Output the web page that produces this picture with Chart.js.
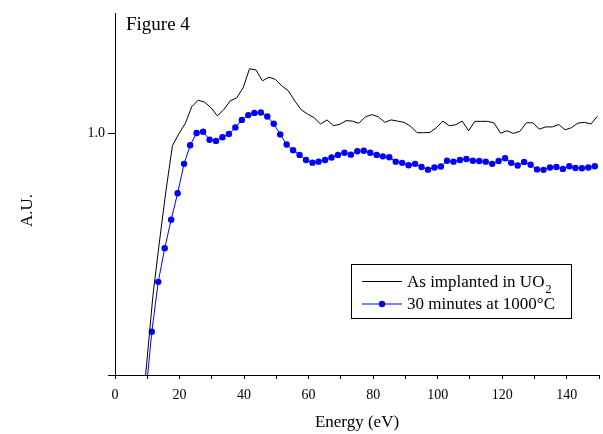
<!DOCTYPE html>
<html><head><meta charset="utf-8">
<script src="https://cdn.jsdelivr.net/npm/chart.js@4.4.0/dist/chart.umd.min.js"></script>
<style>html,body{margin:0;padding:0;background:#fff;}#wrap{width:603px;height:434px;}</style>
</head><body><div id="wrap"><canvas id="c" width="603" height="434"></canvas></div>
<script>
const implantedEnergy = [7.8, 9.8, 11.8, 13.8, 15.8, 17.8, 19.8, 21.8, 23.8, 25.8, 27.8, 29.8, 31.7, 33.7, 35.7, 37.7, 39.7, 41.7, 43.7, 45.7, 47.7, 49.7, 51.7, 53.7, 55.7, 57.7, 59.7, 61.7, 63.7, 65.7, 67.7, 69.7, 71.6, 73.6, 75.6, 77.6, 79.6, 81.6, 83.6, 85.6, 87.6, 89.6, 91.6, 93.6, 95.6, 97.6, 99.6, 101.6, 103.6, 105.6, 107.6, 109.6, 111.5, 113.5, 115.5, 117.5, 119.5, 121.5, 123.5, 125.5, 127.5, 129.5, 131.5, 133.5, 135.5, 137.5, 139.5, 141.5, 143.5, 145.5, 147.5, 149.5];
const implantedValues = [-0.24, 0.045, 0.335, 0.555, 0.764, 0.950, 1.000, 1.043, 1.112, 1.139, 1.130, 1.107, 1.074, 1.099, 1.136, 1.148, 1.190, 1.269, 1.264, 1.219, 1.234, 1.225, 1.198, 1.178, 1.136, 1.099, 1.081, 1.066, 1.040, 1.057, 1.033, 1.039, 1.054, 1.052, 1.043, 1.070, 1.079, 1.070, 1.047, 1.057, 1.052, 1.047, 1.031, 1.004, 1.004, 1.005, 1.025, 1.052, 1.033, 1.037, 1.052, 1.012, 1.051, 1.051, 1.051, 1.044, 1.002, 1.012, 1.001, 1.010, 1.045, 1.045, 1.019, 1.028, 1.028, 1.038, 1.016, 1.025, 1.044, 1.047, 1.040, 1.072];
const annealedEnergy = [9.4, 11.4, 13.4, 15.4, 17.4, 19.4, 21.4, 23.3, 25.3, 27.3, 29.3, 31.3, 33.3, 35.3, 37.3, 39.3, 41.3, 43.2, 45.2, 47.2, 49.2, 51.2, 53.2, 55.2, 57.2, 59.2, 61.2, 63.1, 65.1, 67.1, 69.1, 71.1, 73.1, 75.1, 77.1, 79.1, 81.1, 83.0, 85.0, 87.0, 89.0, 91.0, 93.0, 95.0, 97.0, 99.0, 101.0, 102.9, 104.9, 106.9, 108.9, 110.9, 112.9, 114.9, 116.9, 118.9, 120.9, 122.8, 124.8, 126.8, 128.8, 130.8, 132.8, 134.8, 136.8, 138.8, 140.8, 142.7, 144.7, 146.7, 148.7];
const annealedValues = [-0.10, 0.179, 0.386, 0.525, 0.643, 0.753, 0.875, 0.952, 1.003, 1.008, 0.975, 0.970, 0.985, 0.999, 1.026, 1.057, 1.077, 1.086, 1.088, 1.071, 1.041, 0.997, 0.955, 0.931, 0.912, 0.891, 0.880, 0.884, 0.891, 0.901, 0.912, 0.921, 0.913, 0.927, 0.929, 0.921, 0.912, 0.906, 0.902, 0.884, 0.879, 0.869, 0.875, 0.862, 0.851, 0.860, 0.864, 0.888, 0.884, 0.891, 0.895, 0.888, 0.887, 0.884, 0.875, 0.887, 0.898, 0.879, 0.868, 0.883, 0.871, 0.852, 0.850, 0.860, 0.862, 0.854, 0.865, 0.858, 0.857, 0.860, 0.865];
const xTickValues = [0, 10, 20, 30, 40, 50, 60, 70, 80, 90, 100, 110, 120, 130, 140, 150];
const xTickLabels = ['0', '', '20', '', '40', '', '60', '', '80', '', '100', '', '120', '', '140', ''];
const yTickValues = [0, 1.0];
const yTickLabels = ['', '1.0'];
const seriesLabels = ['As implanted in UO', '30 minutes at 1000\u00B0C'];
const seriesSubscripts = ['2', ''];
const xTitle = 'Energy (eV)';
const yTitle = 'A.U.';
const figureTitle = 'Figure 4';

const FONT = '"Liberation Serif", "Times New Roman", serif';

const decor = {
  id: 'decor',
  afterDraw(chart) {
    const ctx = chart.ctx;
    ctx.save();
    ctx.fillStyle = '#000';
    ctx.font = '19px ' + FONT;
    ctx.textAlign = 'left';
    ctx.textBaseline = 'alphabetic';
    ctx.fillText(figureTitle, 126, 29.5);
    ctx.save();
    ctx.translate(31.5, 210.5);
    ctx.rotate(-Math.PI / 2);
    ctx.font = '17px ' + FONT;
    ctx.textAlign = 'center';
    ctx.fillText(yTitle, 0, 0);
    ctx.restore();
    ctx.strokeStyle = '#000';
    ctx.lineWidth = 1;
    ctx.strokeRect(351.5, 264.5, 220, 54);
    const rows = [281, 303.5];
    const base = [287, 309];
    chart.data.datasets.forEach((ds, i) => {
      ctx.strokeStyle = ds.borderColor;
      ctx.lineWidth = 1;
      ctx.beginPath();
      ctx.moveTo(362, rows[i] + 0.5);
      ctx.lineTo(402, rows[i] + 0.5);
      ctx.stroke();
      if (ds.pointRadius > 0) {
        ctx.fillStyle = ds.pointBackgroundColor;
        ctx.beginPath();
        ctx.arc(382, rows[i] + 0.5, ds.pointRadius, 0, Math.PI * 2);
        ctx.fill();
      }
      ctx.fillStyle = '#000';
      ctx.font = '17px ' + FONT;
      ctx.textAlign = 'left';
      ctx.fillText(seriesLabels[i], 407, base[i]);
      if (seriesSubscripts[i]) {
        const w = ctx.measureText(seriesLabels[i]).width;
        ctx.font = '12px ' + FONT;
        ctx.fillText(seriesSubscripts[i], 407 + w + 1, base[i] + 5.5);
      }
    });
    ctx.restore();
  }
};

new Chart(document.getElementById('c'), {
  type: 'line',
  data: {
    datasets: [
      {
        label: seriesLabels[0] + seriesSubscripts[0],
        data: implantedEnergy.map((e, i) => ({x: e, y: implantedValues[i]})),
        borderColor: '#000000',
        backgroundColor: '#000000',
        borderWidth: 1,
        pointRadius: 0,
        tension: 0,
        clip: 0
      },
      {
        label: seriesLabels[1],
        data: annealedEnergy.map((e, i) => ({x: e, y: annealedValues[i]})),
        borderColor: '#0000ff',
        backgroundColor: '#0000ff',
        pointBackgroundColor: '#0000ff',
        pointBorderWidth: 0,
        pointRadius: 3.2,
        borderWidth: 1,
        tension: 0,
        clip: 0
      }
    ]
  },
  options: {
    responsive: false,
    animation: false,
    devicePixelRatio: 1,
    layout: {padding: {top: 13, right: 3, left: 0, bottom: 0}},
    plugins: {legend: {display: false}, tooltip: {enabled: false}},
    scales: {
      x: {
        type: 'linear', position: 'bottom', min: 0, max: 150,
        afterBuildTicks: s => { s.ticks = xTickValues.map(v => ({value: v})); },
        afterFit: s => { s.height = 59; s.paddingLeft = 0; s.paddingRight = 0; },
        ticks: {autoSkip: false, maxRotation: 0, padding: 8, color: '#000',
          font: {family: FONT, size: 14},
          callback: (v, i) => xTickLabels[i]},
        grid: {drawOnChartArea: false, drawTicks: true, tickLength: 4, color: '#000', lineWidth: 1},
        border: {display: true, color: '#000', width: 1},
        title: {display: true, text: xTitle, color: '#000', font: {family: FONT, size: 17}, padding: {top: 0, bottom: 1}}
      },
      y: {
        type: 'linear', position: 'left', min: 0, max: 1.5,
        afterBuildTicks: s => { s.ticks = yTickValues.map(v => ({value: v})); },
        afterFit: s => { s.width = 115; s.paddingTop = 0; s.paddingBottom = 0; },
        ticks: {autoSkip: false, padding: 3, color: '#000',
          font: {family: FONT, size: 14},
          callback: (v, i) => yTickLabels[i]},
        grid: {drawOnChartArea: false, drawTicks: true, tickLength: 7, color: '#000', lineWidth: 1},
        border: {display: true, color: '#000', width: 1}
      }
    }
  },
  plugins: [decor]
});
</script></body></html>
